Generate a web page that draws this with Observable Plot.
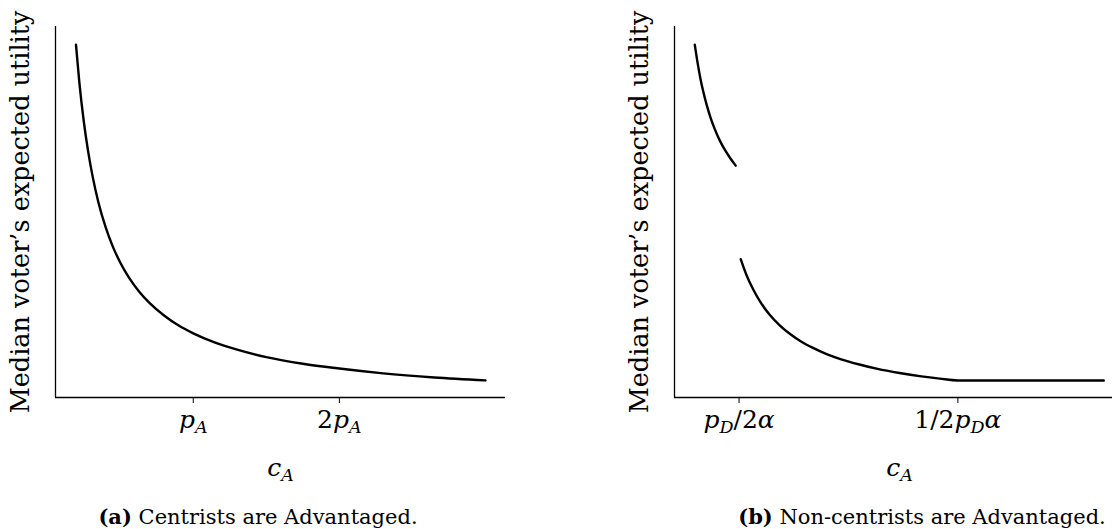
<!DOCTYPE html>
<html><head><meta charset="utf-8">
<script src="https://cdn.jsdelivr.net/npm/d3@7"></script>
<script src="https://cdn.jsdelivr.net/npm/@observablehq/plot@0.6"></script>
<style>
body{margin:0;background:#fff;}
#wrap{position:relative;width:1112px;height:529px;overflow:hidden;background:#fff;}
.panel{position:absolute;top:0;}
#wrap svg, #wrap svg text, #wrap svg tspan{font-family:"DejaVu Serif","Liberation Serif",serif !important;}
.cap{position:absolute;top:506px;font-family:"DejaVu Serif","Liberation Serif",serif;font-size:21px;line-height:1;white-space:nowrap;transform:translateX(-50%);color:#000;}
</style></head><body><div id="wrap"></div>
<script>
// ---- shared labels ----
const yLabel = "Median voter’s expected utility";
const xLabel = "c_A";

// ---- panel (a): Centrists are Advantaged ----
const aTickValues = [1, 2];
const aTickLabels = ["p_A", "2p_A"];
const aX = [0.197, 0.22, 0.25, 0.28, 0.31, 0.35, 0.4, 0.45, 0.5, 0.56, 0.63, 0.7, 0.8, 0.9, 1.0, 1.15, 1.3, 1.5, 1.75, 2.0, 2.3, 2.65, 3.0];
const aY = [9.51, 8.50, 7.46, 6.64, 5.98, 5.27, 4.59, 4.06, 3.64, 3.23, 2.85, 2.55, 2.21, 1.94, 1.73, 1.48, 1.29, 1.09, 0.91, 0.78, 0.65, 0.54, 0.46];

// ---- panel (b): Non-centrists are Advantaged ----
const bTickValues = [1, 4];
const bTickLabels = ["p_D/2α", "1/2p_Dα"];
const b1X = [0.393, 0.43, 0.47, 0.51, 0.56, 0.61, 0.67, 0.74, 0.81, 0.88, 0.954];
const b1Y = [9.51, 9.04, 8.60, 8.24, 7.86, 7.54, 7.22, 6.91, 6.66, 6.45, 6.25];
const b2X = [1.023, 1.1, 1.2, 1.3, 1.42, 1.55, 1.7, 1.85, 2.0, 2.2, 2.4, 2.65, 2.9, 3.2, 3.5, 3.75, 4.0, 6.0];
const b2Y = [3.73, 3.31, 2.89, 2.55, 2.23, 1.96, 1.71, 1.51, 1.35, 1.17, 1.03, 0.89, 0.77, 0.66, 0.57, 0.51, 0.46, 0.46];

const captionTags = ["(a)", "(b)"];
const captionTexts = ["Centrists are Advantaged.", "Non-centrists are Advantaged."];

const toRows = (xs, ys) => xs.map((x, i) => ({x, y: ys[i]}));
const mathStrings = new Set([xLabel, ...aTickLabels, ...bTickLabels]);

function mathify(svg, fs) {
  const subFs = fs * 0.7, shift = 5;
  svg.querySelectorAll("text").forEach(t => {
    const s = t.textContent;
    if (!mathStrings.has(s)) return;
    t.textContent = "";
    let shifted = false;
    for (let i = 0; i < s.length; i++) {
      let ch = s[i], sub = false;
      if (ch === "_") { sub = true; ch = s[++i]; }
      const ts = document.createElementNS("http://www.w3.org/2000/svg", "tspan");
      ts.textContent = ch;
      if (/[A-Za-zα]/.test(ch)) ts.setAttribute("font-style", "italic");
      if (sub) {
        ts.setAttribute("font-size", subFs);
        if (!shifted) { ts.setAttribute("dy", shift); shifted = true; }
      } else if (shifted) {
        ts.setAttribute("dy", -shift); shifted = false;
      }
      t.appendChild(ts);
    }
  });
}

function makePanel({left, width, marginLeft, marginRight, xDomain, ticks, tickLabels, series, xLabelDx}) {
  const fmt = new Map(ticks.map((v, i) => [v, tickLabels[i]]));
  const plot = Plot.plot({
    width, height: 490,
    marginLeft, marginRight, marginTop: 26, marginBottom: 93,
    x: {domain: xDomain},
    y: {domain: [0, 10], axis: null},
    style: {fontFamily: "'DejaVu Serif', serif", background: "white", color: "black", overflow: "visible"},
    marks: [
      Plot.ruleY([0], {stroke: "black", strokeWidth: 1.3}),
      Plot.ruleX([xDomain[0]], {stroke: "black", strokeWidth: 1.3}),
      ...series.map(s => Plot.line(s, {x: "x", y: "y", curve: "monotone-x", stroke: "black", strokeWidth: 2.4})),
      Plot.axisX(ticks, {tickSize: 6, tickPadding: 7, tickFormat: d => fmt.get(d), fontSize: 25, label: null}),
      Plot.text([xLabel], {frameAnchor: "bottom", dy: 78, dx: xLabelDx, lineAnchor: "bottom", textAnchor: "middle", fontSize: 25, fill: "black"}),
      Plot.text([yLabel], {frameAnchor: "left", rotate: -90, dx: -27, lineAnchor: "bottom", textAnchor: "middle", fontSize: 25.5, fill: "black"})
    ]
  });
  mathify(plot, 25);
  const div = document.createElement("div");
  div.className = "panel";
  div.style.left = left + "px";
  div.appendChild(plot);
  document.getElementById("wrap").appendChild(div);
}

makePanel({left: 0, width: 556, marginLeft: 55, marginRight: 51, xDomain: [0.057, 3.137],
  ticks: aTickValues, tickLabels: aTickLabels, series: [toRows(aX, aY)], xLabelDx: 0});
makePanel({left: 556, width: 556, marginLeft: 118, marginRight: 0, xDomain: [0.115, 6.12],
  ticks: bTickValues, tickLabels: bTickLabels, series: [toRows(b1X, b1Y), toRows(b2X, b2Y)], xLabelDx: 6});

const capCenters = [258, 922];
captionTags.forEach((tag, i) => {
  const c = document.createElement("div");
  c.className = "cap";
  c.style.left = capCenters[i] + "px";
  const b = document.createElement("b");
  b.textContent = tag;
  c.appendChild(b);
  c.appendChild(document.createTextNode(" " + captionTexts[i]));
  document.getElementById("wrap").appendChild(c);
});
</script></body></html>
